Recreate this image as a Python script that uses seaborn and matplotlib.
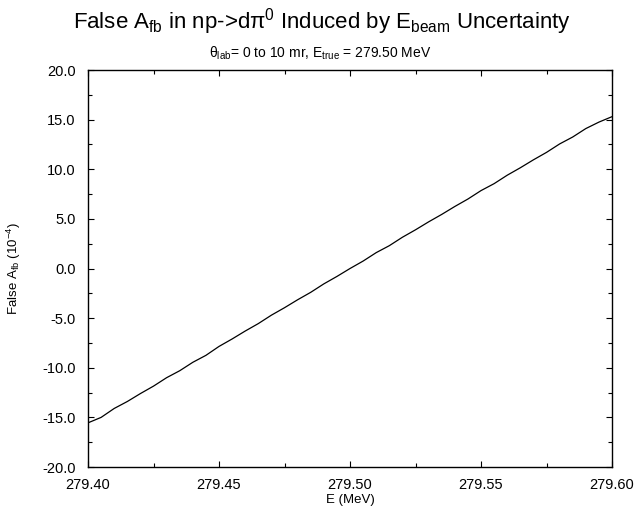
import matplotlib
matplotlib.use("Agg")
import matplotlib.pyplot as plt
import seaborn as sns
import pandas as pd
import numpy as np
from matplotlib.ticker import MultipleLocator, FormatStrFormatter

energy = [279.400, 279.405, 279.410, 279.415, 279.420, 279.425, 279.430, 279.435,
          279.440, 279.445, 279.450, 279.455, 279.460, 279.465, 279.470, 279.475,
          279.480, 279.485, 279.490, 279.495, 279.500, 279.505, 279.510, 279.515,
          279.520, 279.525, 279.530, 279.535, 279.540, 279.545, 279.550, 279.555,
          279.560, 279.565, 279.570, 279.575, 279.580, 279.585, 279.590, 279.595,
          279.600]
false_afb = [-15.55, -15.00, -14.10, -13.40, -12.60, -11.85, -11.00, -10.30,
             -9.45, -8.75, -7.85, -7.10, -6.30, -5.55, -4.70, -3.95,
             -3.15, -2.40, -1.55, -0.80, 0.00, 0.75, 1.60, 2.30,
             3.15, 3.90, 4.70, 5.45, 6.25, 7.00, 7.85, 8.55,
             9.40, 10.15, 10.95, 11.70, 12.55, 13.25, 14.10, 14.75,
             15.30]

sns.set_style("ticks")
plt.rcParams['font.family'] = ['Liberation Sans', 'DejaVu Sans']
plt.rcParams['mathtext.fontset'] = 'custom'
plt.rcParams['mathtext.rm'] = 'Liberation Sans'
plt.rcParams['mathtext.it'] = 'Liberation Sans:italic'
plt.rcParams['mathtext.bf'] = 'Liberation Sans:bold'
plt.rcParams['text.color'] = 'black'
plt.rcParams['axes.labelcolor'] = 'black'
plt.rcParams['xtick.color'] = 'black'
plt.rcParams['ytick.color'] = 'black'
plt.rcParams['xtick.labelcolor'] = 'black'
plt.rcParams['ytick.labelcolor'] = 'black'

df = pd.DataFrame({"E": energy, "A": false_afb})

fig = plt.figure(figsize=(6.36, 5.08), dpi=100)
ax = fig.add_axes([0.1384, 0.0807, 0.8239, 0.7815])
sns.lineplot(data=df, x="E", y="A", ax=ax, color="black", linewidth=0.9)

ax.set_xlim(279.40, 279.60)
ax.set_ylim(-20, 20)
ax.xaxis.set_major_locator(MultipleLocator(0.05))
ax.xaxis.set_minor_locator(MultipleLocator(0.025))
ax.yaxis.set_major_locator(MultipleLocator(5))
ax.yaxis.set_minor_locator(MultipleLocator(2.5))
ax.xaxis.set_major_formatter(FormatStrFormatter('%.2f'))
ax.yaxis.set_major_formatter(FormatStrFormatter('%.1f'))
ax.tick_params(which='both', direction='in', top=True, right=True,
               labelsize=10.5, color='black', labelcolor='black', width=0.8)
ax.tick_params(which='major', length=4)
ax.tick_params(which='minor', length=3)
ax.tick_params(axis='x', which='major', pad=8)
ax.tick_params(axis='y', which='major', pad=9)
for s in ax.spines.values():
    s.set_linewidth(1.0)
    s.set_color('black')

ax.set_xlabel("E (MeV)", fontsize=9.5, labelpad=1, color='black')
ax.set_ylabel(r"False A$_\mathregular{fb}$ (10$^\mathregular{-4}$)", fontsize=9.5, labelpad=14, color='black')

fig.text(0.506, 0.958, r"False A$_\mathregular{fb}$ in np->dπ$^\mathregular{0}$ Induced by E$_\mathregular{beam}$ Uncertainty",
         ha='center', va='center', fontsize=16, color='black')
fig.text(0.504, 0.895, r"θ$_\mathregular{lab}$= 0 to 10 mr, E$_\mathregular{true}$ = 279.50 MeV",
         ha='center', va='center', fontsize=10, color='black')

fig.savefig("out.png", dpi=100)
